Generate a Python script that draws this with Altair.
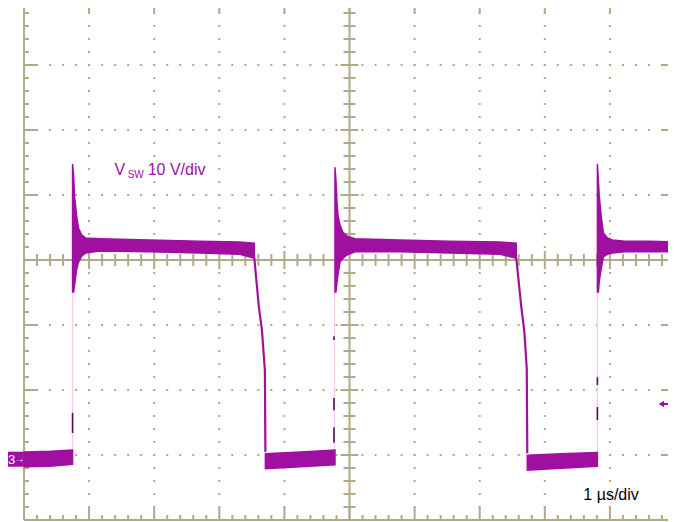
import altair as alt
import pandas as pd

# ---------------- data (time in µs, voltage in V) ----------------
# high (switch on) segments: time, upper and lower envelope of the noisy trace
HIGH1_T = [0.746, 0.762, 0.777, 0.792, 0.808, 0.838, 0.885, 0.946, 1.162, 1.931, 2.700, 3.315, 3.538]
HIGH1_TOP = [45.7, 44.0, 40.6, 39.4, 37.8, 35.8, 34.8, 34.3, 34.2, 34.0, 33.8, 33.7, 33.5]
HIGH1_BOT = [26.0, 26.0, 27.1, 28.2, 29.4, 30.6, 31.5, 32.0, 32.3, 32.2, 32.0, 31.8, 31.2]

HIGH2_T = [4.777, 4.792, 4.808, 4.823, 4.854, 4.900, 4.962, 5.085, 5.777, 6.546, 7.315, 7.562]
HIGH2_TOP = [45.2, 43.2, 39.8, 37.8, 36.3, 35.2, 34.6, 34.2, 34.0, 33.8, 33.7, 33.5]
HIGH2_BOT = [26.0, 26.0, 27.5, 28.6, 30.6, 31.2, 31.7, 32.2, 32.2, 32.0, 31.8, 31.2]

HIGH3_T = [8.808, 8.823, 8.838, 8.869, 8.900, 8.962, 9.038, 9.238, 9.623, 10.0]
HIGH3_TOP = [45.7, 43.2, 40.6, 37.4, 35.1, 34.3, 34.0, 33.8, 33.8, 33.7]
HIGH3_BOT = [26.0, 26.0, 27.8, 29.7, 31.4, 31.8, 32.0, 32.2, 32.2, 32.2]

# low (switch off) segments
LOW0_T = [0.0, 0.40, 0.746]
LOW0_TOP = [1.4, 1.5, 1.7]
LOW0_BOT = [-0.9, -0.8, -0.5]

LOW1_T = [3.708, 4.25, 4.777]
LOW1_TOP = [1.1, 1.4, 1.7]
LOW1_BOT = [-1.2, -0.9, -0.6]

LOW2_T = [7.731, 8.25, 8.808]
LOW2_TOP = [0.9, 1.1, 1.3]
LOW2_BOT = [-1.4, -1.1, -0.8]

# falling edges
FALL1_T = [3.538, 3.608, 3.654, 3.700, 3.708]
FALL1_V = [31.2, 23.7, 20.2, 14.0, 1.4]
FALL2_T = [7.562, 7.638, 7.685, 7.723, 7.731]
FALL2_V = [31.2, 23.8, 20.0, 14.2, 1.2]

# rising edges (faint, fast)
RISE_T = [0.746, 4.770, 8.808]
RISE_LO = [1.7, 1.7, 1.3]
RISE_HI = [26.0, 26.0, 26.0]

# darker sample clusters on the rising edges
DARK_T = [0.746, 4.762, 4.762, 4.762, 8.808, 8.808]
DARK_LO = [4.3, 2.8, 7.8, 18.6, 11.7, 6.3]
DARK_HI = [7.4, 5.2, 9.7, 19.2, 12.9, 8.3]

LABEL_CH = ["V", "SW", "10 V/div"]
LABEL_T = [1.392, 1.592, 1.90]
LABEL_V = [44.0, 43.5, 44.0]
LABEL_SIZE = [16, 10, 16]
TIMEBASE = "1 µs/div"

# ---------------- geometry of the scope screen ----------------
PURPLE = "#a010a0"
GRID = "#b0aa88"
PINK = "#efcdef"
DARK = "#5a0a5a"
FONT = "Liberation Sans"

PX_T = 65.1          # px per µs (division)
PX_V = 6.5           # px per volt (10 V/div)
PLOT_W = 644
PLOT_H = 512
T_VIEW_END = PLOT_W / PX_T
V_BOT = -9.077       # voltage at the bottom border
V_TOPB = V_BOT + 80  # voltage at the top border
V_VIEW_TOP = V_BOT + PLOT_H / PX_V
VC = V_BOT + 40      # centre horizontal line

xs = alt.Scale(domain=[0, T_VIEW_END], nice=False, zero=False)
ys = alt.Scale(domain=[V_BOT, V_VIEW_TOP], nice=False, zero=False)


def X(f="t"):
    return alt.X(f"{f}:Q", scale=xs, axis=None)


def Y(f="v"):
    return alt.Y(f"{f}:Q", scale=ys, axis=None)


# grid dots
dots = []
for i in range(1, 10):
    if i == 5:
        continue
    for k in range(1, 40):
        dots.append({"t": i, "v": V_BOT + 2 * k})
for j in range(1, 8):
    if j == 4:
        continue
    for k in range(1, 50):
        dots.append({"t": 0.2 * k, "v": V_BOT + 10 * j})
dots_df = pd.DataFrame(dots)

# ticks and solid lines
segs = []
for k in range(1, 40):
    v = V_BOT + 2 * k
    major = k % 5 == 0
    L = 13 if major else 5
    segs.append({"t": 0, "t2": L / PX_T, "v": v, "v2": v})
    segs.append({"t": 10 - L / PX_T, "t2": 10, "v": v, "v2": v})
    if k != 20:
        h = 9 if major else 6
        segs.append({"t": 5 - h / PX_T, "t2": 5 + h / PX_T, "v": v, "v2": v})
for k in range(1, 50):
    t = 0.2 * k
    major = k % 5 == 0
    L = 13 if major else 5
    segs.append({"t": t, "t2": t, "v": V_BOT, "v2": V_BOT + L / PX_V})
    segs.append({"t": t, "t2": t, "v": V_TOPB - L / PX_V, "v2": V_TOPB})
    if k != 25:
        h = 9 if major else 6
        segs.append({"t": t, "t2": t, "v": VC - h / PX_V, "v2": VC + h / PX_V})
for t in [0, 5, 10]:
    segs.append({"t": t, "t2": t, "v": V_BOT, "v2": V_TOPB})
for v in [V_BOT, VC, V_TOPB]:
    segs.append({"t": 0, "t2": 10, "v": v, "v2": v})
segs_df = pd.DataFrame(segs)

# trace band
band = []
for name, T, TOP, BOT in [
    ("h1", HIGH1_T, HIGH1_TOP, HIGH1_BOT),
    ("h2", HIGH2_T, HIGH2_TOP, HIGH2_BOT),
    ("h3", HIGH3_T, HIGH3_TOP, HIGH3_BOT),
    ("l0", LOW0_T, LOW0_TOP, LOW0_BOT),
    ("l1", LOW1_T, LOW1_TOP, LOW1_BOT),
    ("l2", LOW2_T, LOW2_TOP, LOW2_BOT),
]:
    for t, a, b in zip(T, TOP, BOT):
        band.append({"seg": name, "t": t, "top": a, "bot": b})
band_df = pd.DataFrame(band)

fall = []
for name, T, V in [("f1", FALL1_T, FALL1_V), ("f2", FALL2_T, FALL2_V)]:
    for i, (t, v) in enumerate(zip(T, V)):
        fall.append({"seg": name, "i": i, "t": t, "v": v})
fall_df = pd.DataFrame(fall)

rise_df = pd.DataFrame({"t": RISE_T, "v": RISE_LO, "v2": RISE_HI})
dark_df = pd.DataFrame({"t": DARK_T, "v": DARK_LO, "v2": DARK_HI})
lab_df = pd.DataFrame({"txt": LABEL_CH, "t": LABEL_T, "v": LABEL_V, "size": LABEL_SIZE})

layers = []
layers.append(
    alt.Chart(dots_df).mark_square(size=4, color=GRID, opacity=1).encode(x=X(), y=Y())
)
layers.append(
    alt.Chart(segs_df).mark_rule(color=GRID, strokeWidth=2).encode(
        x=X(), x2=alt.X2("t2:Q"), y=Y(), y2=alt.Y2("v2:Q")
    )
)
layers.append(
    alt.Chart(rise_df).mark_rule(color=PINK, strokeWidth=1.2).encode(
        x=X(), y=Y(), y2=alt.Y2("v2:Q")
    )
)
layers.append(
    alt.Chart(band_df).mark_area(color=PURPLE, stroke=PURPLE, strokeWidth=1.5, opacity=1).encode(
        x=X(), y=Y("top"), y2=alt.Y2("bot:Q"), detail="seg:N"
    )
)
layers.append(
    alt.Chart(fall_df).mark_line(color=PURPLE, strokeWidth=2.2).encode(
        x=X(), y=Y(), detail="seg:N", order="i:Q"
    )
)
layers.append(
    alt.Chart(dark_df).mark_rule(color=DARK, strokeWidth=1.6).encode(
        x=X(), y=Y(), y2=alt.Y2("v2:Q")
    )
)
layers.append(
    alt.Chart(lab_df).mark_text(color=PURPLE, font=FONT, align="left", baseline="alphabetic").encode(
        x=X(), y=Y(), text="txt:N", size=alt.Size("size:Q", scale=None, legend=None)
    )
)
layers.append(
    alt.Chart(pd.DataFrame({"txt": [TIMEBASE], "t": [8.592], "v": [-6.0]}))
    .mark_text(color="black", font=FONT, fontSize=16, align="left", baseline="alphabetic")
    .encode(x=X(), y=Y(), text="txt:N")
)
# channel 3 ground marker
layers.append(
    alt.Chart(pd.DataFrame({"t": [-0.38], "t2": [-0.008], "v": [-0.88], "v2": [1.43]}))
    .mark_rect(color=PURPLE)
    .encode(x=X(), x2=alt.X2("t2:Q"), y=Y(), y2=alt.Y2("v2:Q"))
)
layers.append(
    alt.Chart(pd.DataFrame({"txt": ["3", "→"], "t": [-0.19, -0.07], "v": [0.2, 0.3], "size": [13, 10]}))
    .mark_text(color="white", font=FONT, align="center", baseline="middle")
    .encode(x=X(), y=Y(), text="txt:N", size=alt.Size("size:Q", scale=None, legend=None))
)
# right-hand level arrow
layers.append(
    alt.Chart(pd.DataFrame({"t": [9.80], "t2": [10.0], "v": [8.77]}))
    .mark_rule(color=PURPLE, strokeWidth=2)
    .encode(x=X(), x2=alt.X2("t2:Q"), y=Y())
)
layers.append(
    alt.Chart(pd.DataFrame({"t": [9.79], "v": [8.77]}))
    .mark_point(shape="triangle-left", filled=True, size=40, color=PURPLE, opacity=1)
    .encode(x=X(), y=Y())
)

chart = (
    alt.layer(*layers)
    .properties(
        width=PLOT_W,
        height=PLOT_H,
        autosize=alt.AutoSizeParams(type="none"),
        padding={"left": 16, "top": 0, "right": 0, "bottom": 1},
        background="white",
    )
    .configure_view(stroke=None)
)

chart.save("out.html", embed_options={"renderer": "svg", "actions": False})
